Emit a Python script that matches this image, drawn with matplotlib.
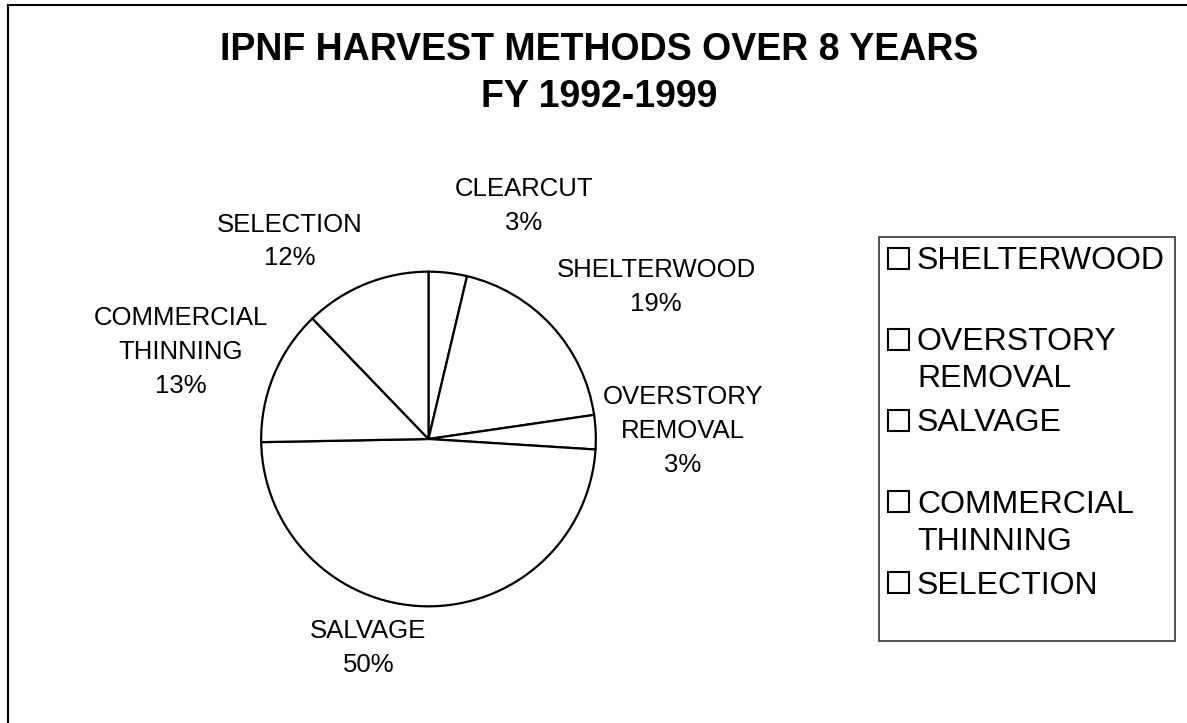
import matplotlib
matplotlib.use('Agg')
import matplotlib.pyplot as plt
from matplotlib.patches import Rectangle

plt.rcParams['font.family'] = ['Liberation Sans', 'DejaVu Sans']

# harvest methods, clockwise from 12 o'clock
methods = ['CLEARCUT', 'SHELTERWOOD', 'OVERSTORY\nREMOVAL', 'SALVAGE',
           'COMMERCIAL\nTHINNING', 'SELECTION']
shares = [3.7, 19.0, 3.3, 48.7, 13.1, 12.2]
pct_labels = ['3%', '19%', '3%', '50%', '13%', '12%']

# legend box only shows these (clearcut got cut off)
legend_methods = methods[1:]

# label centres, in pie radius units
label_pos = [(0.57, 1.39), (1.36, 0.91), (1.52, 0.05),
             (-0.36, -1.25), (-1.48, 0.52), (-0.83, 1.18)]

W, H = 1187, 723
fig = plt.figure(figsize=(W / 100, H / 100), dpi=100)
fig.patch.set_facecolor('white')

# overlay in pixel coords for frame, title, legend
bg = fig.add_axes([0, 0, 1, 1])
bg.set_xlim(0, W)
bg.set_ylim(H, 0)
bg.axis('off')

bg.plot([8, 8], [H, 4.5], color='black', lw=1.5)
bg.plot([8, W], [4.5, 4.5], color='black', lw=1.5)

bg.text(599, 50, 'IPNF HARVEST METHODS OVER 8 YEARS', ha='center',
        va='center', fontsize=27, fontweight='bold')
bg.text(599, 97, 'FY 1992-1999', ha='center', va='center',
        fontsize=27, fontweight='bold')

# pie
cx, cy, r = 428.5, 439, 169
ax = fig.add_axes([(cx - r) / W, (H - cy - r) / H, 2 * r / W, 2 * r / H])
ax.pie(shares, startangle=90, counterclock=False, radius=1,
       colors=['white'] * len(shares),
       wedgeprops=dict(edgecolor='black', linewidth=1.6))
ax.set_xlim(-1.01, 1.01)
ax.set_ylim(-1.01, 1.01)
ax.axis('off')

for name, pct, (lx, ly) in zip(methods, pct_labels, label_pos):
    ax.text(lx, ly, name + '\n' + pct, ha='center', va='center',
            multialignment='center', fontsize=18.5, linespacing=1.52)

# legend, drawn by hand so the marker sits on the first text line
bg.add_patch(Rectangle((879, 237), 296, 404, facecolor='white',
                       edgecolor='#333333', lw=1.2))
for i, name in enumerate(legend_methods):
    y0 = 258 + i * 81.2
    bg.add_patch(Rectangle((888, y0 - 10.5), 21, 21, facecolor='white',
                           edgecolor='black', lw=1.5))
    for j, line in enumerate(name.split('\n')):
        bg.text(917, y0 + j * 37 + 11, line, ha='left', va='baseline',
                fontsize=23)

fig.savefig('out.png', dpi=100, facecolor='white')
